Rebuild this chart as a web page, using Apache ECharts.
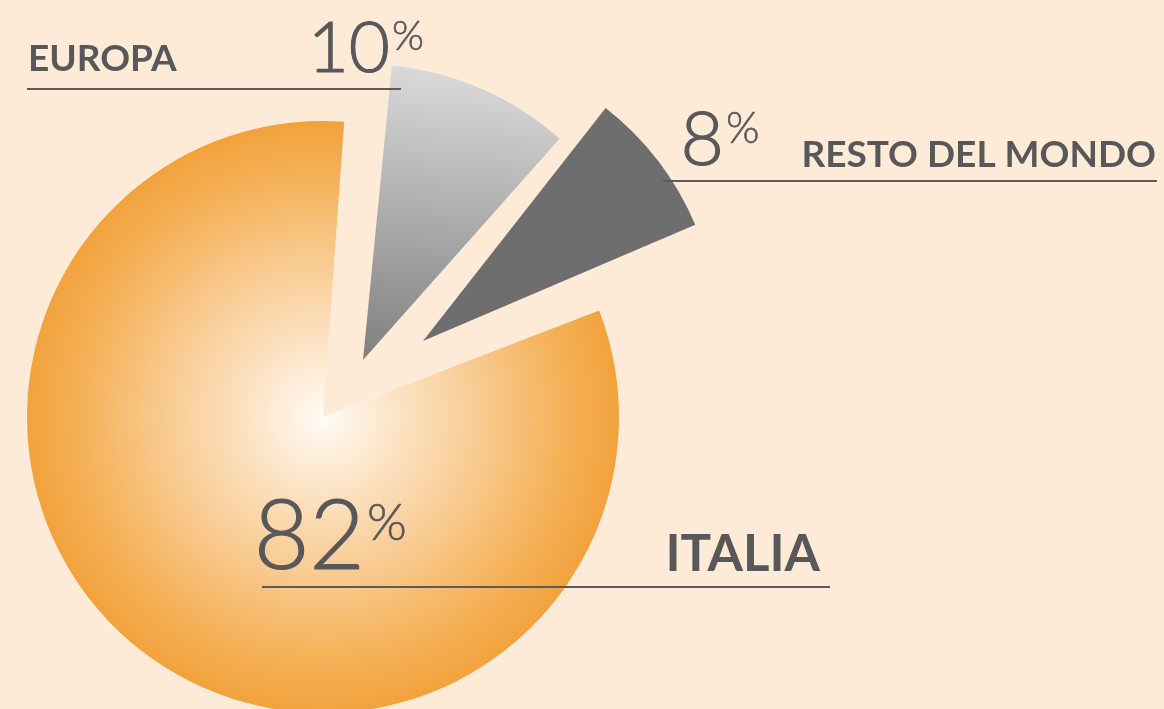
<!DOCTYPE html>
<html>
<head>
<meta charset="utf-8">
<script src="https://cdn.jsdelivr.net/npm/echarts@6/dist/echarts.min.js"></script>
<style>
html,body{margin:0;padding:0;background:#FDEBD8;}
#chart{width:1164px;height:709px;}
</style>
</head>
<body>
<div id="chart"></div>
<script>
// ---- data ----
const categories = ['Europa', 'Resto del mondo', 'Italia'];
const values = [10, 8, 82];
const labelNames = ['EUROPA', 'RESTO DEL MONDO', 'ITALIA'];
const percentSign = '%';

// ---- styling / layout ----
const textColor = '#58585A';
const lineColor = '#5B5B5B';
const radius = 296;
// exploded slices: each slice drawn by its own pie series with its own centre
const centers = [[363, 360], [423, 341], [323, 417]];
const startAngles = [84.4, 87.9, 85.9];
const fills = [
  {type: 'linear', x: 392, y: 66, x2: 365, y2: 358, global: true,
   colorStops: [{offset: 0, color: '#D9D9D9'}, {offset: 1, color: '#808080'}]},
  '#6E6E6E',
  {type: 'radial', x: 323, y: 417, r: 297, global: true,
   colorStops: [{offset: 0, color: '#FFFBF6'}, {offset: 0.25, color: '#FCE3C4'},
                {offset: 0.55, color: '#F8C98D'}, {offset: 0.8, color: '#F5B25A'},
                {offset: 1, color: '#F2A23C'}]}
];

const series = categories.map((c, i) => ({
  type: 'pie',
  center: centers[i],
  radius: [0, radius],
  startAngle: startAngles[i],
  clockwise: true,
  silent: true,
  animation: false,
  label: {show: false},
  labelLine: {show: false},
  emphasis: {disabled: true},
  itemStyle: {borderWidth: 0},
  data: categories.map((name, j) => ({
    name: name,
    value: values[j],
    itemStyle: {color: j === i ? fills[i] : 'rgba(0,0,0,0)', borderWidth: 0}
  }))
}));

const labelLayout = [
  {nx: 28, ny: 59, na: 'left', ns: 37, vx: 390, vy: 49, vs: 71, py: 37, ps: 41, line: [27, 89, 401, 89]},
  {nx: 1156, ny: 155, na: 'right', ns: 37, vx: 724, vy: 140.5, vs: 75, py: 129, ps: 43, line: [663, 181, 1157, 181]},
  {nx: 820, ny: 554.5, na: 'right', ns: 51, vx: 365, vy: 538, vs: 96, py: 523.5, ps: 51, line: [262, 587, 830, 587]}
];

const graphic = [];
labelNames.forEach((n, i) => {
  const L = labelLayout[i];
  graphic.push({type: 'text', x: L.nx, y: L.ny, z: 100, silent: true,
    style: {text: n, fill: textColor, font: 'bold ' + L.ns + 'px Lato', align: L.na, verticalAlign: 'middle'}});
  graphic.push({type: 'text', x: L.vx, y: L.vy, z: 100, silent: true,
    style: {text: String(values[i]), fill: textColor, stroke: textColor, lineWidth: 1.1,
            font: '300 ' + L.vs + 'px Lato', align: 'right', verticalAlign: 'middle'}});
  graphic.push({type: 'text', x: L.vx + 2, y: L.py, z: 100, silent: true,
    style: {text: percentSign, fill: textColor, stroke: textColor, lineWidth: 0.6,
            font: '300 ' + L.ps + 'px Lato', align: 'left', verticalAlign: 'middle'}});
  graphic.push({type: 'line', z: 100, silent: true,
    shape: {x1: L.line[0], y1: L.line[1], x2: L.line[2], y2: L.line[3]},
    style: {stroke: lineColor, lineWidth: 2}});
});

const chart = echarts.init(document.getElementById('chart'), null, {renderer: 'canvas'});
chart.setOption({
  backgroundColor: '#FDEBD8',
  animation: false,
  series: series,
  graphic: graphic
});
</script>
</body>
</html>
